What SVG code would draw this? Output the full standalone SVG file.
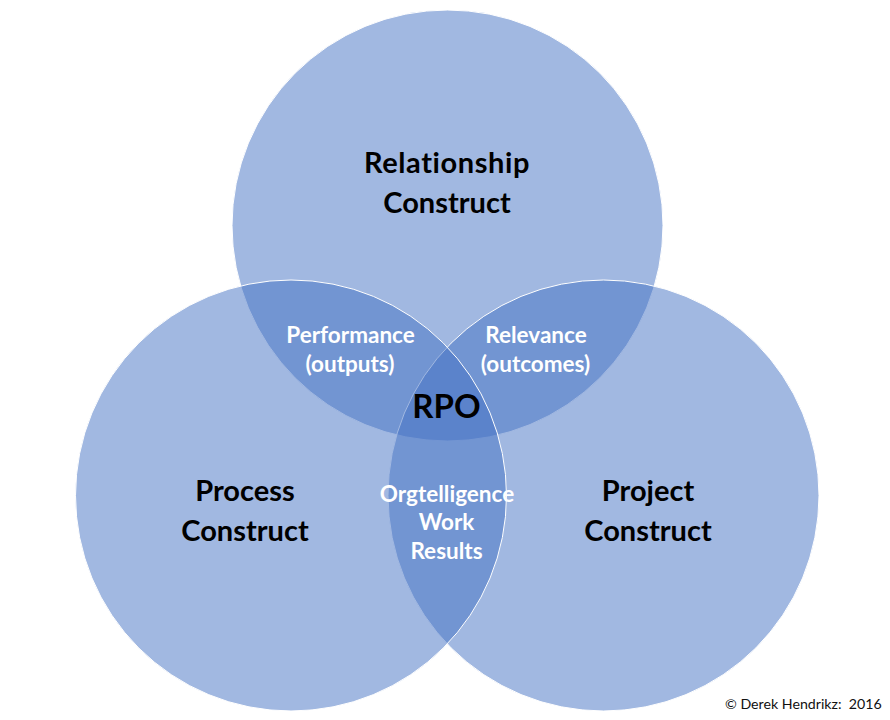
<svg xmlns="http://www.w3.org/2000/svg" width="890" height="720" viewBox="0 0 890 720">
<style>
.c{fill:#4472c4;fill-opacity:.5;stroke:#fff;stroke-width:1}
.t{font-family:Lato,"Open Sans","Liberation Sans",sans-serif;font-weight:700;text-anchor:middle;font-variant-ligatures:none}
.b{font-size:29px;fill:#000}
.w{font-size:22.500px;fill:#fff}
.f{font-family:Lato,"Open Sans","Liberation Sans",sans-serif;font-size:14.200px;fill:#111;white-space:pre}
</style>
<rect width="890" height="720" fill="#fff"/>
<g id="relationship"><circle class="c" cx="447.500" cy="225.500" r="215.500"/><text class="t b" x="447" y="173" letter-spacing=".6">Relationship</text><text class="t b" x="447" y="213">Construct</text></g>
<g id="project"><circle class="c" cx="603.500" cy="495.500" r="215.500"/><text class="t b" x="648" y="501">Project</text><text class="t b" x="648" y="541">Construct</text></g>
<g id="process"><circle class="c" cx="291" cy="495.500" r="215.500"/><text class="t b" x="245" y="501">Process</text><text class="t b" x="245" y="541">Construct</text></g>
<g id="labels">
<text class="t w" x="350.500" y="343">Performance</text><text class="t w" x="350" y="372">(outputs)</text>
<text class="t w" x="536" y="343">Relevance</text><text class="t w" x="535.500" y="372">(outcomes)</text>
<text class="t" x="446.500" y="418" font-size="33" fill="#000">RPO</text>
<text class="t w" x="447" y="502">Orgtelligence</text><text class="t w" x="446.500" y="530">Work</text><text class="t w" x="446.500" y="559">Results</text>
</g>
<text class="f" x="725" y="709">© Derek Hendrikz:  2016</text>
</svg>
